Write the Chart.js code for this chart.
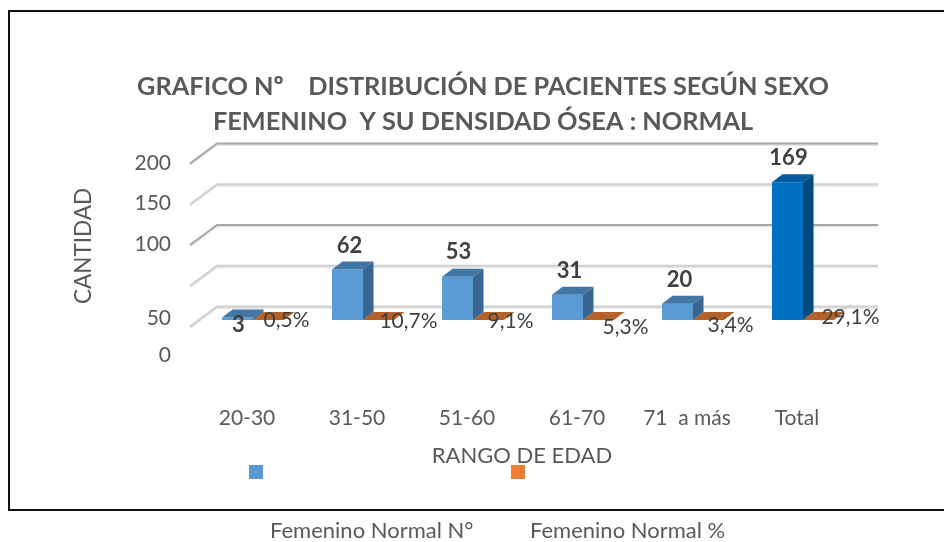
<!DOCTYPE html>
<html lang="es">
<head>
<meta charset="utf-8">
<title>Distribución de pacientes</title>
<script src="https://cdn.jsdelivr.net/npm/chart.js@4"></script>
<style>
    html, body { margin: 0; background: #fff; }
    canvas { display: block; }
</style>
</head>
<body>
<canvas id="chartEdad" width="944" height="542"></canvas>
<script>
// ── Datos ──
const rangos = ['20-30', '31-50', '51-60', '61-70', '71  a más', 'Total'];
const femeninoN = [3, 62, 53, 31, 20, 169];
const femeninoPct = [0.005, 0.107, 0.091, 0.053, 0.034, 0.291];
const ticksCantidad = [0, 50, 100, 150, 200];
const titulo = ['GRAFICO Nº    DISTRIBUCIÓN DE PACIENTES SEGÚN SEXO', 'FEMENINO  Y SU DENSIDAD ÓSEA : NORMAL'];
const nombreSerieN = 'Femenino Normal N°';
const nombreSeriePct = 'Femenino Normal %';

// ── Estilo ──
const FUENTE = 'Lato, "Open Sans", sans-serif';
const GRIS = '#595959';
const GRIS_OSC = '#404040';

// En el original las etiquetas quedaron corridas a mano en Excel
const TICK_Y_PX = { 200: 163, 150: 203, 100: 244, 50: 318, 0: 355 };
const OFFSET_N = [[1, 15], [2, -16], [1, -17], [2, -16], [2, -16], [1, -16]];
const OFFSET_PCT = [[18, 0], [30, 1], [22, 1], [27, 7], [22, 5], [32, -3]];

const PROF_X = 10.5, PROF_Y = 8;   // profundidad de las barras
const tapa = { n: '#4176a5', total: '#005a9e' };
const lado = { n: '#3a6590', total: '#004a80' };

function poligono(ctx, puntos, color) {
    ctx.fillStyle = color;
    ctx.beginPath();
    puntos.forEach(([x, y], i) => i ? ctx.lineTo(x, y) : ctx.moveTo(x, y));
    ctx.closePath();
    ctx.fill();
}

function texto(ctx, str, x, y, font, color, align) {
    ctx.font = font;
    ctx.fillStyle = color;
    ctx.textAlign = align || 'center';
    ctx.textBaseline = 'middle';
    ctx.fillText(str, x, y);
}

function lineaPared(ctx, py, color) {
    ctx.strokeStyle = color;
    ctx.lineWidth = 2;
    ctx.beginPath();
    ctx.moveTo(190, py + 6.5);
    ctx.lineTo(217, py - 13.5);
    ctx.lineTo(878, py - 13.5);
    ctx.stroke();
}

const pared3d = {
    id: 'pared3d',
    beforeDatasetsDraw(chart) {
        const { ctx, scales: { y } } = chart;
        ctx.save();
        ticksCantidad.forEach((v) => {
            const py = y.getPixelForValue(v);
            const oscura = v === 100 || v === 200;
            lineaPared(ctx, py + 1.5, '#e6e6e6');
            lineaPared(ctx, py, oscura ? '#a6a6a6' : '#cfcfcf');
        });
        // borde derecho del piso
        const piso = y.getPixelForValue(0);
        ctx.strokeStyle = '#d0d0d0';
        ctx.beginPath();
        ctx.moveTo(820, piso + 0.5);
        ctx.lineTo(851, piso - 15);
        ctx.stroke();
        ctx.restore();
    },
    afterDatasetsDraw(chart) {
        const { ctx } = chart;
        ctx.save();

        // caras laterales y superiores
        chart.getDatasetMeta(1).data.forEach((b) => {
            const l = b.x - b.width / 2, r = b.x + b.width / 2;
            poligono(ctx, [[l, b.base], [l + PROF_X, b.base - PROF_Y], [r + PROF_X, b.base - PROF_Y], [r, b.base]], '#b5622a');
        });
        chart.getDatasetMeta(0).data.forEach((b, i) => {
            const l = b.x - b.width / 2, r = b.x + b.width / 2;
            const k = i === rangos.length - 1 ? 'total' : 'n';
            poligono(ctx, [[l, b.y], [l + PROF_X, b.y - PROF_Y], [r + PROF_X, b.y - PROF_Y], [r, b.y]], tapa[k]);
            poligono(ctx, [[r, b.y], [r + PROF_X, b.y - PROF_Y], [r + PROF_X, b.base - PROF_Y], [r, b.base]], lado[k]);
        });

        // etiquetas de datos
        chart.getDatasetMeta(0).data.forEach((b, i) => {
            const [dx, dy] = OFFSET_N[i];
            texto(ctx, String(femeninoN[i]), b.x + dx, b.y - PROF_Y + dy, 'bold 22px ' + FUENTE, GRIS_OSC);
        });
        chart.getDatasetMeta(1).data.forEach((b, i) => {
            const [dx, dy] = OFFSET_PCT[i];
            const txt = (femeninoPct[i] * 100).toFixed(1).replace('.', ',') + '%';
            texto(ctx, txt, b.x + dx, b.base + dy, '21px ' + FUENTE, GRIS_OSC);
        });

        // ticks del eje Y (posiciones del original)
        ticksCantidad.forEach((v) => {
            texto(ctx, String(v), 171, TICK_Y_PX[v], '21px ' + FUENTE, GRIS, 'right');
        });

        // títulos de ejes
        texto(ctx, 'RANGO DE EDAD', 522, 456, '22px ' + FUENTE, GRIS);
        ctx.save();
        ctx.translate(84, 246);
        ctx.rotate(-Math.PI / 2);
        texto(ctx, 'CANTIDAD', 0, 0, '22.5px ' + FUENTE, GRIS);
        ctx.restore();

        // leyenda
        ctx.fillStyle = '#5b9bd5';
        ctx.fillRect(249, 465, 14, 14);
        ctx.fillStyle = '#ed7d31';
        ctx.fillRect(511, 465, 14, 14);
        texto(ctx, nombreSerieN, 270, 531, '22px ' + FUENTE, GRIS, 'left');
        texto(ctx, nombreSeriePct, 530, 531, '22px ' + FUENTE, GRIS, 'left');

        // marco
        ctx.strokeStyle = '#111';
        ctx.lineWidth = 2;
        ctx.beginPath();
        ctx.moveTo(945, 11);
        ctx.lineTo(9, 11);
        ctx.lineTo(9, 510);
        ctx.lineTo(945, 510);
        ctx.stroke();
        ctx.restore();
    },
};

new Chart(document.getElementById('chartEdad'), {
    type: 'bar',
    data: {
        labels: rangos,
        datasets: [
            {
                label: nombreSerieN,
                data: femeninoN,
                backgroundColor: ['#5b9bd5', '#5b9bd5', '#5b9bd5', '#5b9bd5', '#5b9bd5', '#0070c0'],
            },
            {
                label: nombreSeriePct,
                data: femeninoPct,
                backgroundColor: '#ed7d31',
            },
        ],
    },
    options: {
        responsive: false,
        animation: false,
        layout: { padding: { left: 108, right: 86, top: 69, bottom: 82 } },
        datasets: { bar: { categoryPercentage: 0.5636, barPercentage: 1 } },
        scales: {
            x: {
                grid: { display: false },
                border: { display: false },
                afterFit: (s) => { s.height = 140; },
                ticks: {
                    padding: 78,
                    labelOffset: -6,
                    maxRotation: 0,
                    color: GRIS,
                    font: { family: FUENTE, size: 21 },
                },
            },
            y: {
                min: 0,
                max: 200,
                grid: { display: false },
                border: { display: false },
                afterFit: (s) => { s.width = 90; },
                ticks: { display: false, stepSize: 50 },
            },
        },
        plugins: {
            legend: { display: false },
            tooltip: { enabled: false },
            title: {
                display: true,
                text: titulo,
                color: GRIS,
                padding: { top: 0, bottom: 18 },
                font: { family: FUENTE, size: 25.3, weight: 'bold', lineHeight: 1.383 },
            },
        },
    },
    plugins: [pared3d],
});
</script>
</body>
</html>
